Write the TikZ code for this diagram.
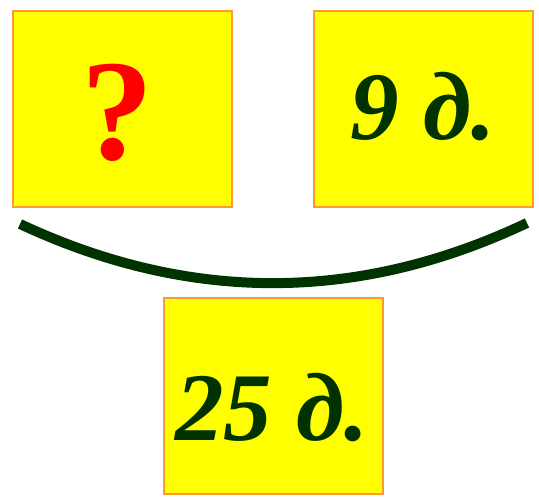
\documentclass[tikz,border=0pt]{standalone}
\usepackage{fontspec}
\setmainfont{Liberation Serif}
\definecolor{boxfill}{HTML}{FFFF00}
\definecolor{boxline}{HTML}{FF9933}
\definecolor{darkgreen}{HTML}{003300}
\definecolor{qred}{HTML}{FF0000}
\tikzset{
  card/.style={draw=boxline, line width=2pt, fill=boxfill, minimum width=219pt, minimum height=196pt, inner sep=0pt},
  greentext/.style={anchor=base, inner sep=0pt, text=darkgreen, font=\bfseries\itshape\fontsize{97}{97}\selectfont},
  redtext/.style={anchor=base, inner sep=0pt, text=qred, font=\bfseries\fontsize{144}{144}\selectfont},
  bracket/.style={draw=darkgreen, line width=10pt}
}
\begin{document}
\begin{tikzpicture}[x=1pt,y=-1pt]
\useasboundingbox (0,0) rectangle (539,498);
\node[card] (qbox) at (122.5,108.5) {};
\node[card] (ninebox) at (423.5,108.5) {};
\node[card] (totalbox) at (273.5,395.5) {};
\node[redtext] (q) at (117,159) {?};
\node[greentext] (nine) at (423,139) {9 д.};
\node[greentext] (total) at (272,440) {25 д.};
\coordinate (l) at (20,224);
\coordinate (r) at (527,223);
\draw[bracket] (l) .. controls (189,303) and (358,303) .. (r);
\end{tikzpicture}
\end{document}
